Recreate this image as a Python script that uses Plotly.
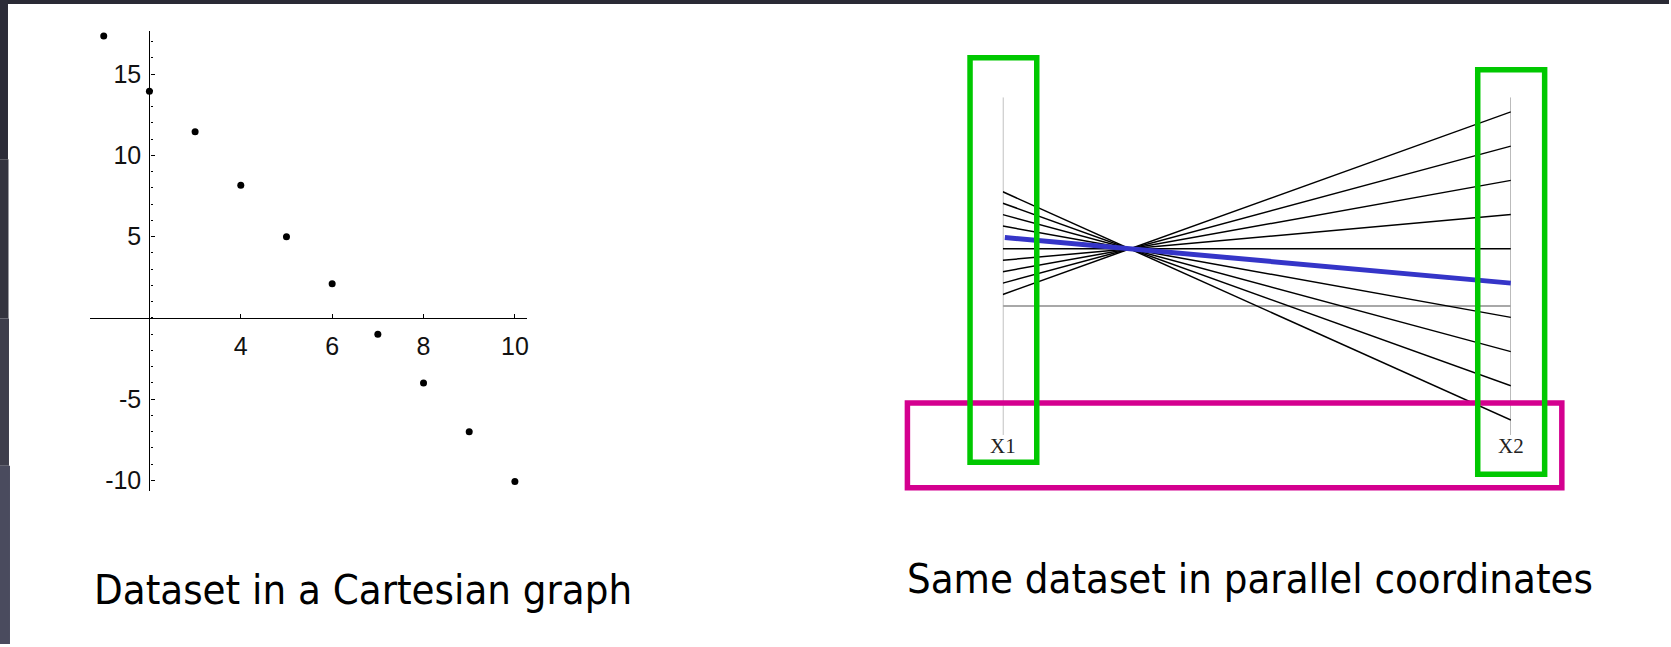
import plotly.graph_objects as go

W, H = 1671, 647

# cartesian view
pts_x = [1, 2, 3, 4, 5, 6, 7, 8, 9, 10]
pts_y = [17.35, 13.94, 11.45, 8.17, 5, 2.1, -1.0, -4.0, -7.0, -10.06]
x_ticks = [4, 6, 8, 10]
y_ticks = [-10, -5, 5, 10, 15]
y_tick_text = ["-10", "-5", "5", "10", "15"]

# parallel coordinates view (X1 -> X2)
x1_vals = [1, 2, 3, 4, 5, 7, 8, 9, 10]
x2_vals = [17, 14, 11, 8, 5, -1, -4, -7, -10]
hi_x1, hi_x2 = 6, 2
axis_names = ["X1", "X2"]

captions = ["Dataset in a Cartesian graph", "Same dataset in parallel coordinates"]


def px(x):
    return x / W


def py(y):
    return 1 - y / H


fig = go.Figure()

fig.add_trace(go.Scatter(x=pts_x, y=pts_y, mode="markers",
                         marker=dict(color="black", size=7),
                         xaxis="x", yaxis="y", showlegend=False))

lx, ly = [], []
for a, b in zip(x1_vals, x2_vals):
    lx += [0, 1, None]
    ly += [a, b, None]
fig.add_trace(go.Scatter(x=lx, y=ly, mode="lines",
                         line=dict(color="black", width=1.5),
                         xaxis="x2", yaxis="y2", showlegend=False))
fig.add_trace(go.Scatter(x=[0.004, 1], y=[hi_x1, hi_x2], mode="lines",
                         line=dict(color="#3535c8", width=5),
                         xaxis="x2", yaxis="y2", showlegend=False))

tickfont = dict(family="Liberation Sans Narrow, Arial Narrow, Liberation Sans", size=25, color="#111")

fig.update_layout(
    width=W, height=H,
    margin=dict(l=0, r=0, t=0, b=0),
    paper_bgcolor="white", plot_bgcolor="rgba(0,0,0,0)",
    xaxis=dict(domain=[px(90.6), px(527.4)], range=[0.71, 10.26],
               anchor="free", position=py(319.4),
               showline=True, linecolor="black", linewidth=1.3,
               showgrid=False, zeroline=False,
               tickvals=x_ticks, ticks="inside", ticklen=4, tickcolor="black",
               tickfont=tickfont, ticklabelstandoff=6),
    yaxis=dict(domain=[py(493.3), py(31.2)], range=[-10.65, 17.65],
               anchor="free", position=px(149.6),
               showline=True, linecolor="black", linewidth=1.3,
               showgrid=False, zeroline=False,
               tickvals=y_ticks, ticktext=y_tick_text,
               ticks="inside", ticklen=4, tickcolor="black",
               minor=dict(ticks="inside", ticklen=2.5, dtick=1, tick0=0,
                          tickcolor="black", showgrid=False),
               tickfont=tickfont, ticklabelstandoff=3),
    xaxis2=dict(domain=[px(1004), px(1512.7)], range=[0, 1], anchor="y2",
                visible=False),
    yaxis2=dict(domain=[py(437), py(97.7)], range=[-11.3, 18.28], anchor="x2",
                visible=False),
)

shapes = []
# parallel axes and zero line
for xv in [0, 1]:
    shapes.append(dict(type="line", xref="x2", yref="y2", x0=xv, x1=xv, y0=-11.3, y1=18.28,
                       line=dict(color="#9a9a9a", width=1.3), layer="below"))
shapes.append(dict(type="line", xref="x2", yref="y2", x0=0, x1=1, y0=0, y1=0,
                   line=dict(color="#a8a8a8", width=2), layer="below"))

# highlight boxes
def box(x0, y0, x1, y1, color):
    return dict(type="rect", xref="paper", yref="paper",
                x0=px(x0), x1=px(x1), y0=py(y1), y1=py(y0),
                line=dict(color=color, width=5.5), layer="above")

shapes.append(box(908.5, 405, 1563.7, 490, "#d4008f"))
shapes.append(box(971.2, 58, 1038, 464.5, "#00c800"))
shapes.append(box(1479.5, 70, 1546.5, 476.5, "#00c800"))

# slide frame
frame = [(0, 0, W, 4, "#2a2a35"),
         (0, 0, 8, 160, "#2c2c38"),
         (0, 160, 8.5, 320, "#34343f"),
         (0, 320, 9, 468, "#3e3e4c"),
         (0, 468, 10, H, "#4a4b5e")]
for x0, y0, x1, y1, c in frame:
    shapes.append(dict(type="rect", xref="paper", yref="paper",
                       x0=px(x0), x1=px(x1), y0=py(y1), y1=py(y0),
                       fillcolor=c, line=dict(width=0), layer="above"))
fig.update_layout(shapes=shapes)

for i, name in enumerate(axis_names):
    fig.add_annotation(x=i, y=py(448), xref="x2", yref="paper", text=name,
                       showarrow=False, xanchor="center", yanchor="middle",
                       font=dict(family="Liberation Serif, serif", size=21, color="#222"))

capfont = dict(family="DejaVu Sans Condensed, Tahoma, DejaVu Sans", size=41.5, color="black")
fig.add_annotation(x=px(92), y=py(592), xref="paper", yref="paper", text=captions[0],
                   showarrow=False, xanchor="left", yanchor="middle", font=capfont)
fig.add_annotation(x=px(906), y=py(581), xref="paper", yref="paper", text=captions[1],
                   showarrow=False, xanchor="left", yanchor="middle", font=capfont)

# page body has a default 8px margin; drop it so the figure fills the window
fig.write_html("out.html", config={"displayModeBar": False},
               post_script="document.body.style.margin='0';")
